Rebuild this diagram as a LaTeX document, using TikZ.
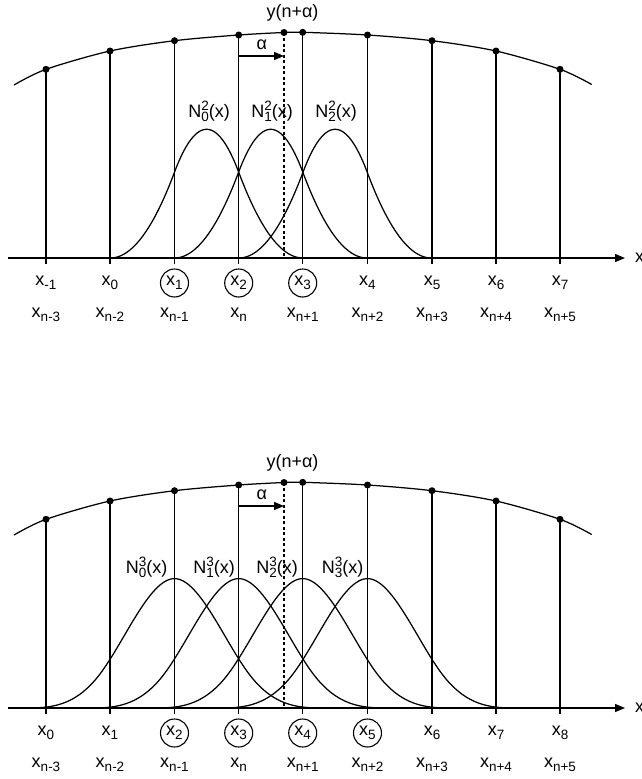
\documentclass[tikz,border=0pt]{standalone}
\usepackage{fontspec}
\setmainfont{Liberation Sans}
\usetikzlibrary{arrows.meta}
\newcommand\sbs[1]{\raisebox{-0.45ex}{\fontsize{13.5}{14}\selectfont #1}}
\newcommand\sps[1]{\raisebox{0.72ex}{\fontsize{13.5}{14}\selectfont #1}}
\newcommand\Nlab[2]{N\rlap{\sps{#1}}\sbs{#2}(x)}

\tikzset{
 ln/.style={line width=1.25pt},
 dot/.style={circle, fill=black, inner sep=0pt, minimum size=7pt},
 txt/.style={font=\fontsize{18}{21}\selectfont, inner sep=0pt},
 circ/.style={txt, draw, circle, line width=1.1pt, minimum size=28pt},
 dsh/.style={line width=1.25pt, dash pattern=on 3pt off 2.5pt},
 arr/.style={line width=1.25pt, -{Triangle[length=10pt,width=8pt]}},
}

\newcommand\drawpanel[1]{%
 \foreach \i/\xx/\yy in {0/46/69.3,1/110/51,2/174.5/40.7,3/238.7/35,4/302.7/32.3,5/367.5/35,6/432/40.7,7/496/51,8/560/69.3}{
   \node[dot] (#1d\i) at (\xx,\yy) {};
   \coordinate (#1k\i) at (\xx,264);
   \draw[ln] (#1k\i) -- (#1d\i.center);
 }
 \coordinate (#1cl) at (14,85);
 \coordinate (#1cr) at (591.7,84.5);
 \node[dot] (#1da) at (284,32.5) {};
 \draw[ln] plot[smooth] coordinates {(#1cl) (#1d0.center) (#1d1.center) (#1d2.center) (#1d3.center) (#1da.center) (#1d4.center) (#1d5.center) (#1d6.center) (#1d7.center) (#1d8.center) (#1cr)};
 \coordinate (#1axL) at (8,258);
 \coordinate (#1axR) at (625,258);
 \draw[arr] (#1axL) -- (#1axR);
 \node[txt, anchor=west] (#1xl) at (635,258) {x};
 \coordinate (#1dsB) at (284,258);
 \draw[dsh] (#1da.center) -- (#1dsB);
 \coordinate (#1aS) at (238.7,56);
 \coordinate (#1aE) at (284,56);
 \draw[arr] (#1aS) -- (#1aE);
 \node[txt] (#1al) at (261.7,45) {α};
 \node[txt, anchor=base] (#1ti) at (292.5,17) {y(n+α)};
}

\begin{document}
\begin{tikzpicture}[x=1pt,y=-1pt,
  declare function={
    bq(\u)=(abs(\u)<0.5) ? (0.75-\u*\u) : ((abs(\u)<1.5) ? (0.5*(1.5-abs(\u))^2) : 0);
    bc(\u)=(abs(\u)<1) ? (2/3-\u*\u+0.5*abs(\u)^3) : ((abs(\u)<2) ? ((2-abs(\u))^3/6) : 0);
  }]
\useasboundingbox (0,0) rectangle (641,779);

% ---------- top panel ----------
\drawpanel{t}
\foreach \c in {206.6,270.7,335.1}{
  \pgfmathsetmacro\lo{\c-96.3}\pgfmathsetmacro\hi{\c+96.3}
  \draw[ln] plot[domain=\lo:\hi, samples=121, variable=\xx] (\xx,{258-171.6*bq((\xx-\c)/64.2)});
}
\node[txt, anchor=base] (tN0) at (209,117) {\Nlab{2}{0}};
\node[txt, anchor=base] (tN1) at (272,117) {\Nlab{2}{1}};
\node[txt, anchor=base] (tN2) at (336,117) {\Nlab{2}{2}};
\node[txt] (tl0) at (46,283) {x\sbs{-1}};
\node[txt] (tl1) at (110,283) {x\sbs{0}};
\node[circ] (tl2) at (174.5,283) {x\sbs{1}};
\node[circ] (tl3) at (238.7,283) {x\sbs{2}};
\node[circ] (tl4) at (302.7,283) {x\sbs{3}};
\node[txt] (tl5) at (367.5,283) {x\sbs{4}};
\node[txt] (tl6) at (432,283) {x\sbs{5}};
\node[txt] (tl7) at (496,283) {x\sbs{6}};
\node[txt] (tl8) at (560,283) {x\sbs{7}};
\foreach \i/\xx/\s in {0/46/n-3,1/110/n-2,2/174.5/n-1,3/238.7/n,4/302.7/n+1,5/367.5/n+2,6/432/n+3,7/496/n+4,8/560/n+5}{
  \node[txt] (tm\i) at (\xx,315) {x\sbs{\s}};
}

% ---------- bottom panel ----------
\begin{scope}[yshift=-450pt]
\drawpanel{b}
\foreach \c in {174.5,238.7,302.7,367.5}{
  \pgfmathsetmacro\lo{\c-151.6}\pgfmathsetmacro\hi{\c+151.6}
  \draw[ln] plot[domain=\lo:\hi, samples=161, variable=\xx] (\xx,{258-194.1*bc((\xx-\c)/75.8)});
}
\node[txt, anchor=base] (bN0) at (146.5,123.5) {\Nlab{3}{0}};
\node[txt, anchor=base] (bN1) at (214,123.5) {\Nlab{3}{1}};
\node[txt, anchor=base] (bN2) at (277,123.5) {\Nlab{3}{2}};
\node[txt, anchor=base] (bN3) at (342.5,123.5) {\Nlab{3}{3}};
\node[txt] (bl0) at (46,283) {x\sbs{0}};
\node[txt] (bl1) at (110,283) {x\sbs{1}};
\node[circ] (bl2) at (174.5,283) {x\sbs{2}};
\node[circ] (bl3) at (238.7,283) {x\sbs{3}};
\node[circ] (bl4) at (302.7,283) {x\sbs{4}};
\node[circ] (bl5) at (367.5,283) {x\sbs{5}};
\node[txt] (bl6) at (432,283) {x\sbs{6}};
\node[txt] (bl7) at (496,283) {x\sbs{7}};
\node[txt] (bl8) at (560,283) {x\sbs{8}};
\foreach \i/\xx/\s in {0/46/n-3,1/110/n-2,2/174.5/n-1,3/238.7/n,4/302.7/n+1,5/367.5/n+2,6/432/n+3,7/496/n+4,8/560/n+5}{
  \node[txt] (bm\i) at (\xx,315) {x\sbs{\s}};
}
\end{scope}
\end{tikzpicture}
\end{document}
